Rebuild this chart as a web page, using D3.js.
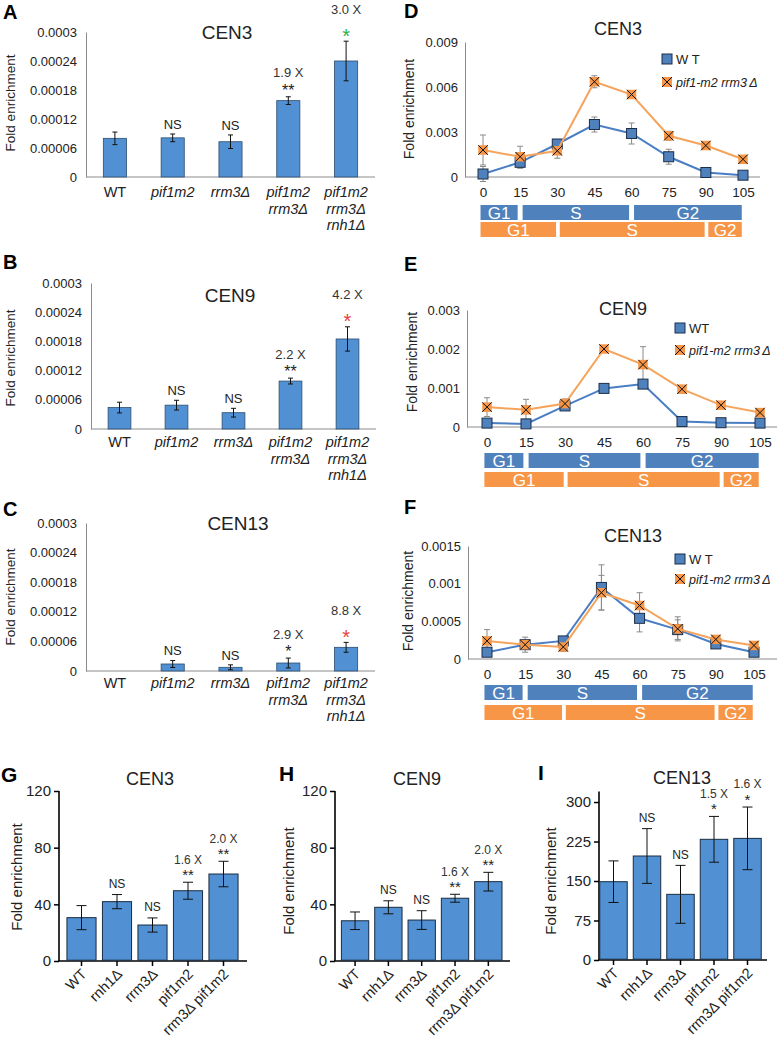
<!DOCTYPE html>
<html>
<head>
<meta charset="utf-8">
<script src="https://cdn.jsdelivr.net/npm/d3@7"></script>
<style>body{margin:0;background:#fff}</style>
</head>
<body>
<script>
var FONT = "'Liberation Sans', Arial, sans-serif";
var BAR_FILL = "#5190d2", BAR_EDGE = "#2c4d6e";
var BLUE = "#4f81bd", ORANGE = "#f79646";

// ---- panels A-C (Excel bars) ----
var catsAC = ["WT", "pif1m2", "rrm3Δ", "pif1m2\nrrm3Δ", "pif1m2\nrrm3Δ\nrnh1Δ"];
var ticksAC = [0, 0.00006, 0.00012, 0.00018, 0.00024, 0.0003];
var valsA = [0.000080, 0.000081, 0.000073, 0.000158, 0.000240];
var errsA = [0.000013, 0.000008, 0.000014, 0.000008, 0.000041];
var sigA  = ["", "NS", "NS", "**", "*"];
var foldA = ["", "", "", "1.9 X", "3.0 X"];
var valsB = [0.000044, 0.000049, 0.0000335, 0.0000985, 0.000185];
var errsB = [0.000011, 0.000010, 0.000009, 0.000006, 0.000025];
var sigB  = ["", "NS", "NS", "**", "*"];
var foldB = ["", "", "", "2.2 X", "4.2 X"];
var valsC = [0, 0.0000142, 0.0000075, 0.0000162, 0.000048];
var errsC = [0, 0.000007, 0.000005, 0.000010, 0.000010];
var sigC  = ["", "NS", "NS", "*", "*"];
var foldC = ["", "", "", "2.9 X", "8.8 X"];

// ---- panels D-F (time courses) ----
var times = [0, 15, 30, 45, 60, 75, 90, 105];
var phasesWT  = [["G1", -1, 14], ["S", 16, 59], ["G2", 61, 104.5]];
var phasesMut = [["G1", -1, 29.5], ["S", 31, 89.5], ["G2", 91, 104.5]];
var wtD   = [0.0002, 0.00098, 0.0022, 0.0035, 0.0029, 0.00135, 0.0003, 0.00012];
var wtDErr = [0.0005, 0.0004, 0.0002, 0.0005, 0.0007, 0.0005, 0.0001, 0.0001];
var mutD  = [0.0018, 0.00135, 0.00175, 0.00635, 0.0055, 0.00275, 0.0021, 0.00118];
var mutDErr = [0.001, 0.0007, 0.0005, 0.0004, 0.0002, 0.0003, 0.0002, 0.0001];
var wtE   = [0.0001, 0.00008, 0.00054, 0.00099, 0.0011, 0.00014, 0.00011, 0.0001];
var wtEErr = [0.00003, 0.00003, 0.00006, 0.00006, 0.00005, 0.00002, 0.00002, 0.00002];
var mutE  = [0.00051, 0.00044, 0.0006, 0.002, 0.0016, 0.00097, 0.00056, 0.00037];
var mutEErr = [0.00024, 0.00027, 0.00012, 0.00002, 0.00046, 0.00003, 0.00003, 0.00002];
var wtF   = [0.00009, 0.00019, 0.00024, 0.00095, 0.00054, 0.00039, 0.0002, 0.00009];
var wtFErr = [0.00002, 0.00003, 0.00003, 0.0003, 0.00018, 0.00013, 0.00003, 0.00002];
var mutF  = [0.00024, 0.00019, 0.00016, 0.00088, 0.00071, 0.0004, 0.00026, 0.00018];
var mutFErr = [0.00015, 0.0001, 0.00006, 0.00023, 0.00017, 0.00016, 0.00005, 0.00003];

// ---- panels G-I (Prism bars) ----
var catsGI = ["WT", "rnh1Δ", "rrm3Δ", "pif1m2", "rrm3Δ pif1m2"];
var valsG = [30.6, 41.9, 25.4, 49.6, 61.4];
var errsG = [8.5, 5, 5, 6, 9];
var sigG  = ["", "NS", "NS", "**", "**"];
var foldG = ["", "", "", "1.6 X", "2.0 X"];
var valsH = [28.4, 37.9, 28.9, 44.3, 56];
var errsH = [6.2, 4.6, 6.6, 2.8, 6.6];
var sigH  = ["", "NS", "NS", "**", "**"];
var foldH = ["", "", "", "1.6 X", "2.0 X"];
var valsI = [148.7, 197.5, 124.7, 229.2, 231];
var errsI = [39.5, 52, 55, 43.5, 59.5];
var sigI  = ["", "NS", "NS", "*", "*"];
var foldI = ["", "", "", "1.5 X", "1.6 X"];

var svg = d3.select("body").append("svg")
    .attr("width", 778)
    .attr("height", 1045)
    .style("font-family", FONT);

function label(x, y, s, size, opts) {
  opts = opts || {};
  return svg.append("text")
      .attr("x", x).attr("y", y)
      .attr("text-anchor", opts.anchor || "middle")
      .attr("font-size", size)
      .attr("font-weight", opts.bold ? "bold" : null)
      .attr("font-style", opts.italic ? "italic" : null)
      .attr("fill", opts.fill || "#222")
      .text(s);
}

function yTitle(x, y, size) {
  svg.append("text")
      .attr("transform", "translate(" + x + "," + y + ") rotate(-90)")
      .attr("text-anchor", "middle")
      .attr("font-size", size)
      .attr("fill", "#222")
      .text("Fold enrichment");
}

function annotate(cx, top, sig, fold, sigColor, small) {
  var fs = small ? 12 : 13;
  var star = small ? 15 : 16;
  if (!sig) return;
  var cy = top - (small ? 11 : 10);
  var isStar = sig.indexOf("*") >= 0;
  var sz = isStar ? (sigColor ? 20 : star) : fs;
  label(cx, cy + (isStar ? 0.57 : 0.36) * sz, sig, sz, {fill: sigColor || "#222"});
  if (fold) {
    var fy = cy - (sigColor ? 22 : (small ? 12 : 14));
    label(cx, fy + 0.36 * fs, fold, fs, {fill: "#333"});
  }
}

function excelBars(c) {
  var x = d3.scaleBand().domain(catsAC).range([c.axisX, c.xRight])
      .paddingInner(0.6).paddingOuter(0.3);
  var y = d3.scaleLinear().domain([0, 0.0003]).range([c.yZero, c.yTop]);

  var ya = svg.append("g").attr("transform", "translate(" + c.axisX + ",0)")
      .call(d3.axisLeft(y).tickValues(ticksAC).tickSize(0).tickPadding(9)
        .tickFormat(function(d) { return String(d); }));
  ya.select(".domain").attr("stroke", "#8c8c8c");
  ya.selectAll("text").attr("font-size", 13).attr("fill", "#222").style("font-family", FONT);

  svg.append("line")
      .attr("x1", c.axisX).attr("x2", c.xRight)
      .attr("y1", c.yZero).attr("y2", c.yZero)
      .attr("stroke", "#8c8c8c");

  catsAC.forEach(function(cat, i) {
    var cx = x(cat) + x.bandwidth() / 2;
    var v = c.vals[i], e = c.errs[i];
    if (v > 0) {
      svg.append("rect")
          .attr("x", x(cat)).attr("width", x.bandwidth())
          .attr("y", y(v)).attr("height", y(0) - y(v))
          .attr("fill", BAR_FILL).attr("stroke", BAR_EDGE).attr("stroke-width", 0.8);
      svg.append("line").attr("x1", cx).attr("x2", cx)
          .attr("y1", y(v + e)).attr("y2", y(Math.max(0, v - e)))
          .attr("stroke", "#111");
      [v + e, v - e].forEach(function(w) {
        svg.append("line").attr("x1", cx - 2.5).attr("x2", cx + 2.5)
            .attr("y1", y(w)).attr("y2", y(w)).attr("stroke", "#111");
      });
    }
    annotate(cx, y(v + e), c.sig[i], c.fold[i], i === 4 ? c.starColor : null, false);
    cat.split("\n").forEach(function(line, k) {
      label(cx, c.labelY + k * 16.5, line, 14.5, {italic: cat !== "WT"});
    });
  });

  label(c.tx, c.ty, c.title, 19);
  label(c.lx, c.ly, c.letter, 20, {bold: true, anchor: "start", fill: "#000"});
  yTitle(c.yLabX, c.yLabY, 13.5);
}

excelBars({letter: "A", lx: 3, ly: 19, title: "CEN3", tx: 227, ty: 39,
  axisX: 86, xRight: 375, yTop: 32, yZero: 177, labelY: 197,
  vals: valsA, errs: errsA, sig: sigA, fold: foldA, starColor: "#2bb34b",
  yLabX: 15, yLabY: 103});
excelBars({letter: "B", lx: 3, ly: 269, title: "CEN9", tx: 230, ty: 302,
  axisX: 91, xRight: 376, yTop: 283, yZero: 429, labelY: 447,
  vals: valsB, errs: errsB, sig: sigB, fold: foldB, starColor: "#e8403c",
  yLabX: 15, yLabY: 358});
excelBars({letter: "C", lx: 3, ly: 516, title: "CEN13", tx: 238, ty: 530,
  axisX: 86, xRight: 375, yTop: 523, yZero: 671, labelY: 688,
  vals: valsC, errs: errsC, sig: sigC, fold: foldC, starColor: "#e8403c",
  yLabX: 15, yLabY: 597});

function xMarker(g, cx, cy, s) {
  g.append("rect").attr("x", cx - s / 2).attr("y", cy - s / 2)
      .attr("width", s).attr("height", s).attr("fill", ORANGE);
  g.append("path")
      .attr("d", "M" + (cx - s / 2) + "," + (cy - s / 2) + "L" + (cx + s / 2) + "," + (cy + s / 2) +
                 "M" + (cx + s / 2) + "," + (cy - s / 2) + "L" + (cx - s / 2) + "," + (cy + s / 2))
      .attr("stroke", "#111").attr("stroke-width", 1);
}

function sqMarker(g, cx, cy, s) {
  g.append("rect").attr("x", cx - s / 2).attr("y", cy - s / 2)
      .attr("width", s).attr("height", s)
      .attr("fill", BLUE).attr("stroke", "#1d2f48").attr("stroke-width", 1);
}

function timeCourse(c) {
  var x = d3.scaleLinear().domain([0, 105]).range([c.x0, c.x105]);
  var y = d3.scaleLinear().domain([0, c.yMax]).range([c.yZero, c.yTop]);

  var ya = svg.append("g").attr("transform", "translate(" + c.axisX + ",0)")
      .call(d3.axisLeft(y).tickValues(c.ticks).tickSize(0).tickPadding(7)
        .tickFormat(function(d) { return String(d); }));
  ya.select(".domain").attr("stroke", "#8c8c8c");
  ya.selectAll("text").attr("font-size", 13).attr("fill", "#222").style("font-family", FONT);

  var xa = svg.append("g").attr("transform", "translate(0," + c.yZero + ")")
      .call(d3.axisBottom(x).tickValues(times).tickSize(0).tickPadding(10));
  xa.select(".domain").remove();
  xa.selectAll("text").attr("font-size", 13.5).attr("fill", "#222").style("font-family", FONT);
  svg.append("line").attr("x1", c.axisX).attr("x2", c.xEnd)
      .attr("y1", c.yZero).attr("y2", c.yZero).attr("stroke", "#8c8c8c");

  var line = d3.line().x(function(d, i) { return x(times[i]); }).y(function(d) { return y(d); });
  var series = [[c.wt, c.wtErr, BLUE], [c.mut, c.mutErr, ORANGE]];
  series.forEach(function(s) {
    s[0].forEach(function(v, i) {
      var cx = x(times[i]);
      svg.append("line").attr("x1", cx).attr("x2", cx)
          .attr("y1", y(v + s[1][i])).attr("y2", y(v - s[1][i]))
          .attr("stroke", "#8a8a8a");
      [v + s[1][i], v - s[1][i]].forEach(function(w) {
        svg.append("line").attr("x1", cx - 3).attr("x2", cx + 3)
            .attr("y1", y(w)).attr("y2", y(w)).attr("stroke", "#8a8a8a");
      });
    });
  });
  series.forEach(function(s, k) {
    svg.append("path").datum(s[0]).attr("d", line)
        .attr("fill", "none").attr("stroke", k ? "#f4a45c" : "#4a7ec4").attr("stroke-width", 2);
    var g = svg.append("g");
    s[0].forEach(function(v, i) {
      if (k) xMarker(g, x(times[i]), y(v), 9.5);
      else sqMarker(g, x(times[i]), y(v), 10);
    });
  });

  // phase bars
  [[phasesWT, BLUE, c.rowWT], [phasesMut, ORANGE, c.rowMut]].forEach(function(r) {
    r[0].forEach(function(p) {
      svg.append("rect").attr("x", x(p[1])).attr("width", x(p[2]) - x(p[1]))
          .attr("y", r[2]).attr("height", 15).attr("fill", r[1]);
      label((x(p[1]) + x(p[2])) / 2, r[2] + 13.5, p[0], 17, {fill: "#fff"});
    });
  });

  // legend
  var lg = svg.append("g");
  sqMarker(lg, c.legX, c.legY, 10);
  xMarker(lg, c.legX, c.legY + c.legGap, 10);
  label(c.legX + 9, c.legY + 5, c.wtName, 13, {anchor: "start"});
  label(c.legX + 9, c.legY + c.legGap + 5, c.mutName, 12.5, {anchor: "start", italic: true});

  label(c.tx, c.ty, c.title, 18);
  label(c.lx, c.ly, c.letter, 20, {bold: true, anchor: "start", fill: "#000"});
  yTitle(c.yLabX, c.yLabY, 14);
}

timeCourse({letter: "D", lx: 404, ly: 18, title: "CEN3", tx: 618, ty: 35,
  axisX: 465, xEnd: 760, x0: 483, x105: 743, yTop: 42, yZero: 177,
  yMax: 0.009, ticks: [0, 0.003, 0.006, 0.009],
  wt: wtD, wtErr: wtDErr, mut: mutD, mutErr: mutDErr,
  rowWT: 205, rowMut: 222,
  legX: 667, legY: 59, legGap: 23, wtName: "W T", mutName: "pif1-m2 rrm3\u2009Δ",
  yLabX: 414, yLabY: 109});
timeCourse({letter: "E", lx: 404, ly: 271, title: "CEN9", tx: 623, ty: 315,
  axisX: 467, xEnd: 777, x0: 487, x105: 760, yTop: 310, yZero: 427,
  yMax: 0.003, ticks: [0, 0.001, 0.002, 0.003],
  wt: wtE, wtErr: wtEErr, mut: mutE, mutErr: mutEErr,
  rowWT: 453, rowMut: 472,
  legX: 680, legY: 328, legGap: 22, wtName: "WT", mutName: "pif1-m2 rrm3\u2009Δ",
  yLabX: 417, yLabY: 362});
timeCourse({letter: "F", lx: 404, ly: 514, title: "CEN13", tx: 633, ty: 542,
  axisX: 468, xEnd: 777, x0: 487, x105: 754, yTop: 546, yZero: 659,
  yMax: 0.0015, ticks: [0, 0.0005, 0.001, 0.0015],
  wt: wtF, wtErr: wtFErr, mut: mutF, mutErr: mutFErr,
  rowWT: 685, rowMut: 705,
  legX: 680, legY: 559, legGap: 20, wtName: "W T", mutName: "pif1-m2 rrm3\u2009Δ",
  yLabX: 413, yLabY: 601});

function prismBars(c) {
  var x = d3.scaleBand().domain(catsGI).range([c.b0, c.b1])
      .paddingInner(0.18).paddingOuter(0.09);
  var y = d3.scaleLinear().domain([0, c.yMax]).range([c.yZero, c.yAxisTop]);

  var ya = svg.append("g").attr("transform", "translate(" + c.axisX + ",0)")
      .call(d3.axisLeft(y).tickValues(c.ticks).tickSize(5).tickSizeOuter(0).tickPadding(3));
  ya.select(".domain").attr("stroke", "#000").attr("stroke-width", 1.6)
      .attr("d", "M0," + c.yZero + "V" + c.yAxisTop);
  ya.selectAll(".tick line").attr("stroke", "#000").attr("stroke-width", 1.5);
  ya.selectAll("text").attr("font-size", 15).attr("fill", "#222").style("font-family", FONT);

  svg.append("line").attr("x1", c.axisX - 0.8).attr("x2", c.xRight)
      .attr("y1", c.yZero).attr("y2", c.yZero)
      .attr("stroke", "#000").attr("stroke-width", 1.6);

  catsGI.forEach(function(cat, i) {
    var cx = x(cat) + x.bandwidth() / 2;
    var v = c.vals[i], e = c.errs[i];
    svg.append("rect")
        .attr("x", x(cat)).attr("width", x.bandwidth())
        .attr("y", y(v)).attr("height", y(0) - y(v) - 0.8)
        .attr("fill", BAR_FILL).attr("stroke", "#1a2c40").attr("stroke-width", 1);
    svg.append("line").attr("x1", cx).attr("x2", cx)
        .attr("y1", y(v + e)).attr("y2", y(v - e)).attr("stroke", "#111");
    [v + e, v - e].forEach(function(w) {
      svg.append("line").attr("x1", cx - 5).attr("x2", cx + 5)
          .attr("y1", y(w)).attr("y2", y(w)).attr("stroke", "#111");
    });
    svg.append("line").attr("x1", cx).attr("x2", cx)
        .attr("y1", c.yZero).attr("y2", c.yZero + 5)
        .attr("stroke", "#000").attr("stroke-width", 1.5);
    annotate(cx, y(v + e), c.sig[i], c.fold[i], null, true);
    svg.append("text")
        .attr("transform", "translate(" + (cx + 6) + "," + (c.yZero + 14) + ") rotate(-45)")
        .attr("text-anchor", "end")
        .attr("font-size", 14.5)
        .attr("fill", "#222")
        .text(cat);
  });

  label(c.tx, c.ty, c.title, 18);
  label(c.lx, c.ly, c.letter, 21, {bold: true, anchor: "start", fill: "#000"});
  yTitle(c.yLabX, c.yLabY, 15);
}

prismBars({letter: "G", lx: 1, ly: 782, title: "CEN3", tx: 150, ty: 785,
  axisX: 59, xRight: 247, b0: 63.75, b1: 241.25, yZero: 961, yAxisTop: 791,
  yMax: 120, ticks: [0, 40, 80, 120],
  vals: valsG, errs: errsG, sig: sigG, fold: foldG, yLabX: 22, yLabY: 877});
prismBars({letter: "H", lx: 279, ly: 781, title: "CEN9", tx: 417, ty: 785,
  axisX: 335, xRight: 510, b0: 338.4, b1: 505, yZero: 961, yAxisTop: 791,
  yMax: 120, ticks: [0, 40, 80, 120],
  vals: valsH, errs: errsH, sig: sigH, fold: foldH, yLabX: 294, yLabY: 881});
prismBars({letter: "I", lx: 538, ly: 780, title: "CEN13", tx: 682, ty: 784,
  axisX: 599, xRight: 767, b0: 596.75, b1: 764.25, yZero: 960, yAxisTop: 791.5,
  yMax: 320, ticks: [0, 75, 150, 225, 300],
  vals: valsI, errs: errsI, sig: sigI, fold: foldI, yLabX: 556, yLabY: 881});
</script>
</body>
</html>
